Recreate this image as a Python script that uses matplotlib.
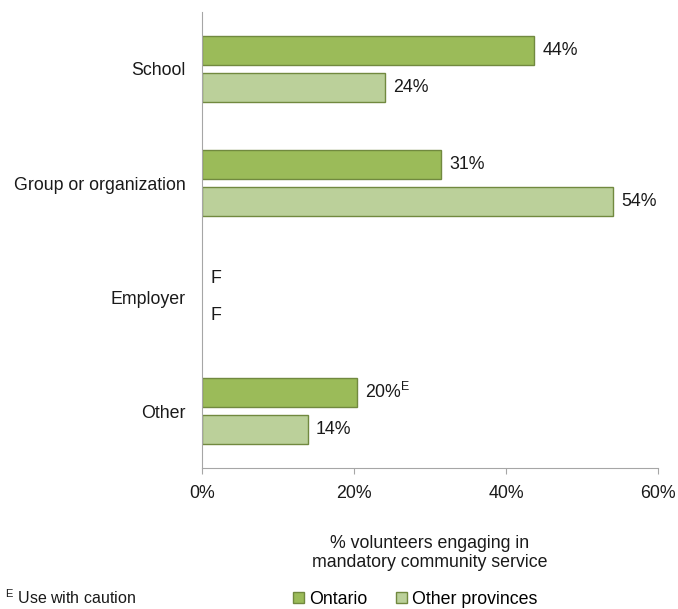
import numpy as np
import matplotlib
matplotlib.use('Agg')
import matplotlib.pyplot as plt

plt.rcParams['font.family'] = ['Liberation Sans', 'DejaVu Sans']
plt.rcParams['mathtext.fontset'] = 'custom'
plt.rcParams['mathtext.rm'] = 'Liberation Sans'

categories = ['School', 'Group or organization', 'Employer', 'Other']
ontario = [43.7, 31.4, None, 20.4]
other_provinces = [24.1, 54.1, None, 13.9]
ontario_labels = ['44%', '31%', 'F', '20%$^{\\mathregular{E}}$']
other_labels = ['24%', '54%', 'F', '14%']
x_ticks = [0, 20, 40, 60]
x_ticklabels = ['0%', '20%', '40%', '60%']

fs = 12.8
txt = '#1a1a1a'

fig = plt.figure(figsize=(6.78, 6.09), dpi=100)
ax = fig.add_axes([0.2979, 0.2315, 0.6726, 0.7488])

y = np.arange(len(categories))
h = 0.255
off = 0.165

ont_vals = [v if v is not None else 0 for v in ontario]
oth_vals = [v if v is not None else 0 for v in other_provinces]
ont_lw = [1 if v is not None else 0 for v in ontario]
oth_lw = [1 if v is not None else 0 for v in other_provinces]

b1 = ax.barh(y - off, ont_vals, height=h, color='#9BBB59', edgecolor='#71893F',
             linewidth=ont_lw, label='Ontario')
b2 = ax.barh(y + off, oth_vals, height=h, color='#BBD09A', edgecolor='#71893F',
             linewidth=oth_lw, label='Other provinces')

for i in range(len(categories)):
    ax.annotate(ontario_labels[i], (ont_vals[i], y[i] - off), xytext=(6, 0),
                textcoords='offset points', va='center', ha='left', fontsize=fs,
                color=txt)
    ax.annotate(other_labels[i], (oth_vals[i], y[i] + off), xytext=(6, 0),
                textcoords='offset points', va='center', ha='left', fontsize=fs,
                color=txt)

ax.set_xlim(0, 60)
ax.set_ylim(3.5, -0.5)
ax.set_yticks(y)
ax.set_yticklabels(categories, fontsize=fs, color=txt)
ax.set_xticks(x_ticks)
ax.set_xticklabels(x_ticklabels, fontsize=fs, color=txt)
ax.tick_params(axis='y', length=0, pad=12)
ax.tick_params(axis='x', length=4, color='#A6A6A6', pad=8)

for s in ['top', 'right']:
    ax.spines[s].set_visible(False)
ax.spines['left'].set_color('#A6A6A6')
ax.spines['bottom'].set_color('#A6A6A6')

ax.set_xlabel('% volunteers engaging in\nmandatory community service',
              fontsize=fs, color=txt, labelpad=24, linespacing=1.15)

fig.legend(handles=[b1, b2], loc='center', bbox_to_anchor=(0.612, 0.016),
           ncol=2, frameon=False, fontsize=fs, handlelength=0.65,
           handleheight=0.65, handletextpad=0.25, columnspacing=1.6)

# footnote: the reference crops it at the bottom edge; keep it just inside
fig.text(0.007, 0.003, '$^{\\mathregular{E}}$ Use with caution',
         fontsize=11.5, va='bottom', ha='left', color=txt)

fig.savefig('out.png', dpi=100)
